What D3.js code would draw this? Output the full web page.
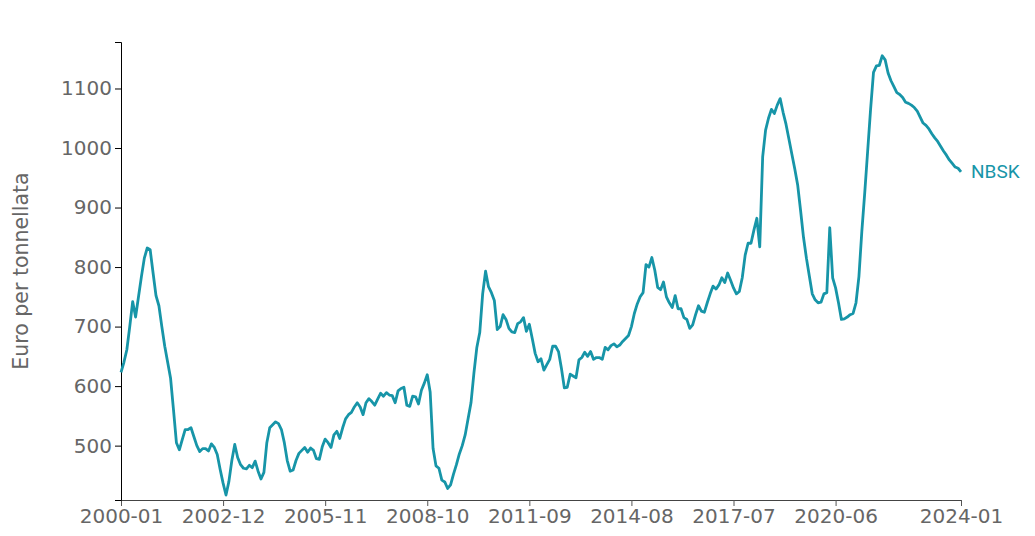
<!DOCTYPE html>
<html>
<head>
<meta charset="utf-8">
<script src="https://cdn.jsdelivr.net/npm/d3@7"></script>
<style>
  html, body { margin: 0; padding: 0; background: #fff; }
  svg { display: block; }
</style>
</head>
<body>
<svg id="chart" width="1035" height="536"></svg>
<script>
// ---- data ----
const seriesName = "NBSK";
const yAxisTitle = "Euro per tonnellata";
const startYear = 2000;
const nbskValues = [
  623, 640, 661, 700, 742, 716, 750, 784, 815, 832, 829, 790,
  752, 735, 700, 667, 640, 613, 560, 505, 493, 510, 527, 527,
  530, 515, 500, 490, 495, 495, 491, 503, 497, 485, 460, 437,
  417, 440, 475, 502, 480, 468, 462, 461, 467, 463, 474, 457,
  444, 455, 505, 530, 535, 540, 537, 527, 505, 475, 457, 459,
  475, 487, 492, 497, 489, 496, 492, 478, 477, 498, 511, 505,
  497, 518, 524, 512, 530, 545, 552, 556, 565, 572, 565, 552,
  572, 579, 574, 568, 578, 588, 583, 589, 585, 584, 572, 592,
  596, 598, 568, 566, 583, 582, 570, 593, 605, 619, 590, 495,
  466, 462, 442, 439, 428, 434, 452, 468, 486, 500, 518, 545,
  572, 622, 665, 690, 755, 793, 767, 757, 744, 695, 700, 720,
  712, 697, 691, 690, 705, 708, 715, 692, 704, 680, 655, 641,
  646, 627, 636, 645, 667, 667, 658, 630, 597, 598, 620, 617,
  614, 644, 648, 657, 650, 658, 645, 648, 648, 645, 665, 661,
  668, 671, 666, 669, 675, 680, 685, 700, 722, 738, 750, 757,
  804, 800, 816, 795, 766, 762, 775, 750, 740, 732, 752, 730,
  730, 715, 712, 697, 703, 720, 735, 726, 724, 740, 755, 768,
  763, 770, 782, 774, 790, 778, 765, 755, 759, 782, 820, 840,
  840, 862, 882, 834, 985, 1030, 1050, 1065, 1058, 1072, 1083, 1060,
  1040, 1015, 990, 965, 938, 895, 850, 815, 785, 755, 745, 740,
  741, 755, 757, 866, 782, 765, 740, 712, 713, 716, 720, 722,
  740, 784, 860, 925, 995, 1065, 1127, 1138, 1139, 1155, 1148, 1126,
  1113, 1103, 1093, 1090, 1085, 1077, 1075, 1072, 1068, 1062, 1052, 1042,
  1038, 1032, 1024, 1017, 1011, 1003, 995, 988, 980, 974, 968, 966,
  960
];
const months = nbskValues.map((_, i) => {
  const y = startYear + Math.floor(i / 12);
  const m = (i % 12) + 1;
  return y + "-" + String(m).padStart(2, "0");
});
const xTickLabels = ["2000-01", "2002-12", "2005-11", "2008-10", "2011-09", "2014-08", "2017-07", "2020-06", "2024-01"];
const yTickValues = [500, 600, 700, 800, 900, 1000, 1100];

// ---- layout ----
const W = 1035, H = 536;
const margin = { top: 42, right: 74, bottom: 36, left: 121 };
const lineColor = "#1795a8";
const textColor = "#666";

const svg = d3.select("#chart");

const x = d3.scalePoint()
  .domain(months)
  .range([margin.left, W - margin.right]);

const minV = d3.min(nbskValues), maxV = d3.max(nbskValues);
const y = d3.scaleLinear()
  .domain([minV * 0.98, maxV * 1.02])
  .range([H - margin.bottom, margin.top]);

// x axis
const gx = svg.append("g")
  .attr("transform", `translate(0,${H - margin.bottom})`)
  .call(d3.axisBottom(x).tickValues(xTickLabels).tickSizeOuter(6));
gx.select(".domain").attr("stroke", "#444");
gx.selectAll(".tick line").attr("stroke", "#555");
gx.selectAll(".tick text")
  .attr("fill", textColor)
  .style("font-family", "'DejaVu Sans', sans-serif")
  .style("font-size", "20px");

// y axis
const gy = svg.append("g")
  .attr("transform", `translate(${margin.left},0)`)
  .call(d3.axisLeft(y).tickValues(yTickValues).tickFormat(d3.format("d")).tickSizeOuter(6));
gy.select(".domain").attr("stroke", "#000");
gy.selectAll(".tick line").attr("stroke", "#000");
gy.selectAll(".tick text")
  .attr("fill", textColor)
  .style("font-family", "'DejaVu Sans', sans-serif")
  .style("font-size", "20px");

// y title
svg.append("text")
  .attr("transform", `translate(28,${(margin.top + H - margin.bottom) / 2}) rotate(-90)`)
  .attr("text-anchor", "middle")
  .attr("fill", textColor)
  .style("font-family", "'DejaVu Sans', sans-serif")
  .style("font-size", "20.5px")
  .text(yAxisTitle);

// line
const line = d3.line()
  .x((d, i) => x(months[i]))
  .y(d => y(d));

svg.append("path")
  .datum(nbskValues)
  .attr("fill", "none")
  .attr("stroke", lineColor)
  .attr("stroke-width", 2.8)
  .attr("stroke-linejoin", "round")
  .attr("d", line);

// series label
const lastI = nbskValues.length - 1;
svg.append("text")
  .attr("x", x(months[lastI]) + 10)
  .attr("y", y(nbskValues[lastI]))
  .attr("dy", "0.35em")
  .attr("fill", lineColor)
  .style("font-family", "Roboto, sans-serif")
  .style("font-size", "19px")
  .text(seriesName);
</script>
</body>
</html>
